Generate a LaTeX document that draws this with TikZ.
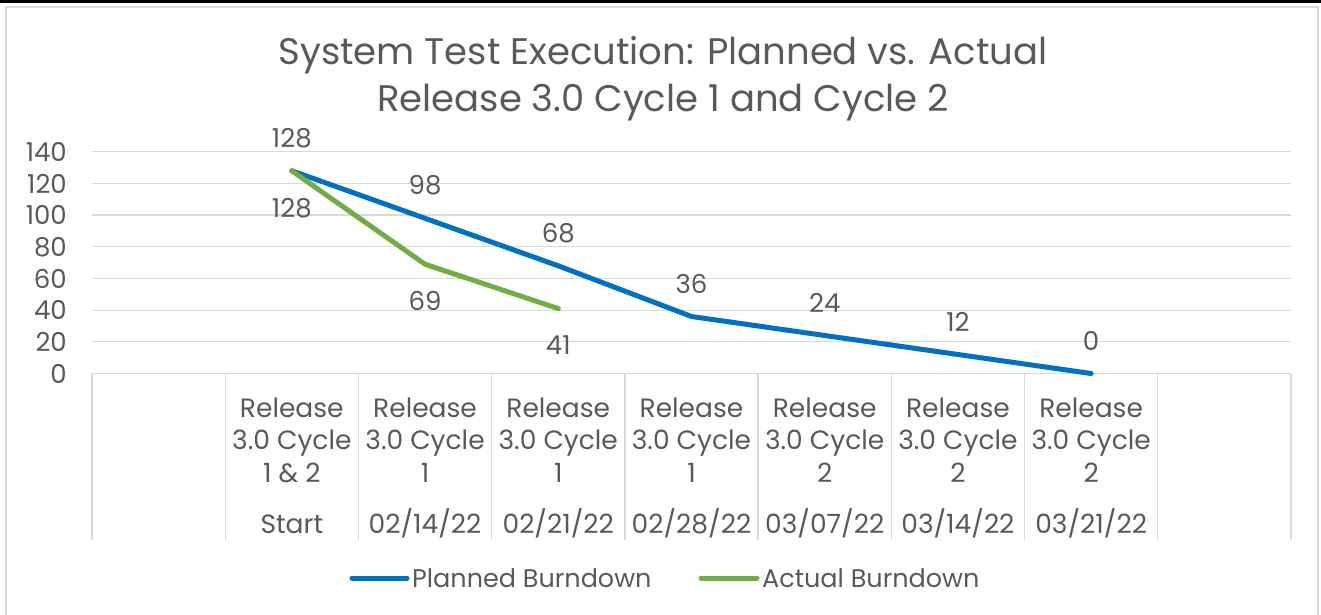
\documentclass[tikz,border=0pt]{standalone}
\usepackage{fontspec}
\setmainfont{Poppins}
\usetikzlibrary{positioning}
\definecolor{plancolor}{HTML}{0070C0}
\definecolor{actcolor}{HTML}{70AD47}
\definecolor{txtcolor}{HTML}{595959}
\definecolor{gridcolor}{HTML}{D9D9D9}

\begin{document}
\begin{tikzpicture}[x=1pt, y=-1pt,
    numlbl/.style={text=txtcolor, inner sep=0pt, font=\fontsize{26}{30}\selectfont},
    catlbl/.style={text=txtcolor, inner sep=0pt, align=center, anchor=base,
                   font=\fontsize{26.5}{32.5}\selectfont},
    leglbl/.style={text=txtcolor, inner sep=0pt, anchor=west,
                   font=\fontsize{25.5}{30}\selectfont},
    grid/.style={draw=gridcolor, line width=1.3pt},
    series/.style={line width=5pt, line cap=round, line join=round}
]
    \useasboundingbox (0,0) rectangle (1321,615);

    % Frame
    \fill[black] (0,0) rectangle (1321,3.5);
    \draw[grid] (6,615) -- (6,7) -- (1318,7) -- (1318,615);

    % Title
    \node[text=txtcolor, inner sep=0pt, align=center, anchor=base,
          font=\fontsize{37}{47}\selectfont] (title) at (663,111)
         {System Test Execution: Planned vs. Actual\\Release 3.0 Cycle 1 and Cycle 2};

    % Value axis and gridlines
    \foreach \v in {0,20,...,140} {
        \draw[grid] (92,{373.5-\v*1.5836}) -- (1291,{373.5-\v*1.5836});
        \node[numlbl, anchor=east] (ytick\v) at (67,{373.5-\v*1.5836}) {\v};
    }

    % Category boxes
    \foreach \i in {0,...,9}
        \draw[grid] ({92+133.22*\i},373.5) -- ({92+133.22*\i},540);

    % Category labels
    \foreach \i/\cyc in {1/{1 \& 2},2/1,3/1,4/1,5/2,6/2,7/2}
        \node[catlbl] (cat\i) at ({158.6+133.22*\i},482) {Release\\3.0 Cycle\\\cyc};
    \foreach \date [count=\i] in {Start,02/14/22,02/21/22,02/28/22,03/07/22,03/14/22,03/21/22}
        \node[catlbl] (date\i) at ({158.6+133.22*\i},533) {\date};

    % Data points
    \foreach \val [count=\i] in {128,98,68,36,24,12,0}
        \coordinate (pl\i) at ({158.6+133.22*\i},{373.5-\val*1.5836});
    \foreach \val [count=\i] in {128,69,41}
        \coordinate (ac\i) at ({158.6+133.22*\i},{373.5-\val*1.5836});

    % Series
    \draw[series, plancolor] (pl1) -- (pl2) -- (pl3) -- (pl4) -- (pl5) -- (pl6) -- (pl7);
    \draw[series, actcolor] (ac1) -- (ac2) -- (ac3);

    % Data labels
    \foreach \val/\i in {128/1,98/2,68/3,36/4,24/5,12/6,0/7}
        \node[numlbl] (plab\i) at (pl\i) [yshift=33pt] {\val};
    \foreach \val/\i in {128/1,69/2,41/3}
        \node[numlbl] (alab\i) at (ac\i) [yshift=-37pt] {\val};

    % Legend
    \coordinate (lgp1) at (352,578);
    \coordinate (lgp2) at (407,578);
    \coordinate (lga1) at (701,578);
    \coordinate (lga2) at (757,578);
    \draw[series, plancolor] (lgp1) -- (lgp2);
    \draw[series, actcolor] (lga1) -- (lga2);
    \node[leglbl, right=5pt of lgp2] (lgtxtp) {Planned Burndown};
    \node[leglbl, right=5pt of lga2] (lgtxta) {Actual Burndown};
\end{tikzpicture}
\end{document}
